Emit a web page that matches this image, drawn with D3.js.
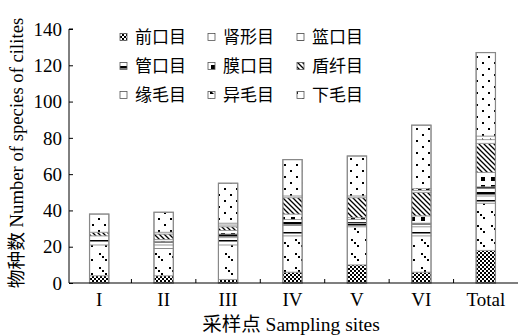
<!DOCTYPE html>
<html><head><meta charset="utf-8">
<script src="https://cdn.jsdelivr.net/npm/d3@7"></script>
<style>
body{margin:0;background:#fff;}
svg{display:block;}
text{font-family:"Liberation Serif","Times New Roman","Noto Sans CJK SC",serif;fill:#000;}
</style></head>
<body><svg id="c" width="518" height="336"></svg>
<script>
const sites = ["I","II","III","IV","V","VI","Total"];
const orders = ["前口目","肾形目","篮口目","管口目","膜口目","盾纤目","缘毛目","异毛目","下毛目"];
// values per order, indexed by site
const v_qiankou  = [4, 4, 2, 6, 10, 6, 18];
const v_shenxing = [17, 15, 19, 20, 21, 20, 26];
const v_lankou   = [5, 2, 4, 6, 2, 5, 4];
const v_guankou  = [0, 2, 2, 3, 2, 2, 5];
const v_mokou    = [0, 1, 2, 3, 1, 4, 8];
const v_dunxian  = [2, 3, 2, 9, 11, 13, 16];
const v_yuanmao  = [0, 0, 1, 1, 1, 1, 2];
const v_yimao    = [0, 1, 1, 0, 0, 1, 2];
const v_xiamao   = [10, 11, 22, 20, 22, 35, 46];
const yTicks = [0,20,40,60,80,100,120,140];

const series = [v_qiankou,v_shenxing,v_lankou,v_guankou,v_mokou,v_dunxian,v_yuanmao,v_yimao,v_xiamao];
const rows = sites.map((s,i)=>{const r={site:s}; orders.forEach((o,j)=>r[o]=series[j][i]); return r;});

const svg = d3.select("#c");
const defs = svg.append("defs");
function pat(id,w,h,draw){
  const p = defs.append("pattern").attr("id",id).attr("patternUnits","userSpaceOnUse").attr("width",w).attr("height",h);
  p.append("rect").attr("width",w).attr("height",h).attr("fill","#fff");
  draw(p);
}
pat("p0",4,4,p=>{p.append("rect").attr("x",0).attr("y",0).attr("width",2).attr("height",2).attr("fill","#000");
  p.append("rect").attr("x",2).attr("y",2).attr("width",2).attr("height",2).attr("fill","#000");});
pat("p1",14,14,p=>{[[1,1],[4,4],[7,7]].forEach(([x,y])=>p.append("rect").attr("x",x).attr("y",y).attr("width",2).attr("height",2).attr("fill","#000"));});
pat("p2",4,8,p=>{p.append("rect").attr("x",0).attr("y",0).attr("width",4).attr("height",1.5).attr("fill","#000");});
pat("p3",4,6,p=>{p.append("rect").attr("x",0).attr("y",0).attr("width",4).attr("height",2.5).attr("fill","#000");});
pat("p4",10,8,p=>{p.append("rect").attr("x",1).attr("y",1).attr("width",4).attr("height",4).attr("fill","#000");});
pat("p5",5,5,p=>{p.append("path").attr("d","M-1,-1L6,6M-1,4L1,6M4,-1L6,1").attr("stroke","#000").attr("stroke-width",1.3);});
pat("p6",4,4,p=>{});
pat("p7",8,8,p=>{p.append("path").attr("d","M2,2L6,6L2,6Z").attr("fill","#000");});
pat("p8",12,12,p=>{p.append("rect").attr("x",2).attr("y",2).attr("width",2).attr("height",2).attr("fill","#000");
  p.append("rect").attr("x",8).attr("y",8).attr("width",2).attr("height",2).attr("fill","#000");});

const y = d3.scaleLinear().domain([0,140]).range([283,29]);
const x = d3.scaleBand().domain(sites).range([67,518]).paddingInner(0.7).paddingOuter(0.35);

const stack = d3.stack().keys(orders)(rows);
svg.append("g").selectAll("g").data(stack).join("g")
  .attr("fill",(d,i)=>`url(#p${i})`)
  .selectAll("rect").data(d=>d).join("rect")
  .attr("x",d=>x(d.data.site)).attr("width",x.bandwidth())
  .attr("y",d=>y(d[1])).attr("height",d=>y(d[0])-y(d[1]))
  .attr("stroke","#999").attr("stroke-width",0.8);
svg.append("g").selectAll("rect").data(rows).join("rect")
  .attr("x",d=>x(d.site)).attr("width",x.bandwidth())
  .attr("y",d=>y(d3.sum(orders,o=>d[o]))).attr("height",d=>y(0)-y(d3.sum(orders,o=>d[o])))
  .attr("fill","none").attr("stroke","#888").attr("stroke-width",1.2);

const ya = svg.append("g").attr("transform","translate(69,0)")
  .call(d3.axisRight(y).tickValues(yTicks).tickSize(4).tickFormat(""));
ya.select(".domain").attr("d",`M4,${y(140)}H0V${y(0)}`);
ya.selectAll("line").attr("stroke","#000");
svg.append("g").selectAll("text").data(yTicks).join("text")
  .attr("x",62).attr("y",d=>y(d)).attr("dy","0.35em").attr("text-anchor","end")
  .attr("font-size",19).text(d=>d);
const xa = svg.append("g").attr("transform","translate(0,283)");
xa.append("line").attr("x1",69).attr("x2",518).attr("stroke","#000").attr("stroke-width",1.2);
const bounds = sites.slice(0,-1).map(s=>x(s)+x.bandwidth()/2+x.step()/2);
xa.selectAll("line.t").data(bounds).join("line").attr("class","t")
  .attr("x1",d=>d).attr("x2",d=>d).attr("y1",0).attr("y2",-4).attr("stroke","#000");
svg.append("g").selectAll("text").data(sites).join("text")
  .attr("x",d=>x(d)+x.bandwidth()/2).attr("y",306).attr("text-anchor","middle")
  .attr("font-size",19).text(d=>d);
svg.append("text").attr("x",291).attr("y",331).attr("text-anchor","middle").attr("font-size",19.5)
  .text("采样点 Sampling sites");
svg.append("text").attr("transform","translate(23,153) rotate(-90)").attr("text-anchor","middle").attr("font-size",18.7)
  .text("物种数 Number of species of cilites");

const lg = svg.append("g");
orders.forEach((o,i)=>{
  const col=i%3, row=Math.floor(i/3);
  const gx=[120,208,297][col], gy=[37,66,95][row];
  lg.append("rect").attr("x",gx).attr("y",gy-3.5).attr("width",7).attr("height",7)
    .attr("fill",`url(#p${i})`).attr("stroke","#555").attr("stroke-width",0.8);
  lg.append("text").attr("x",gx+15).attr("y",gy).attr("dy","0.35em").attr("font-size",17)
    .attr("font-family","'Noto Sans CJK SC',sans-serif").text(o);
});
</script></body></html>
